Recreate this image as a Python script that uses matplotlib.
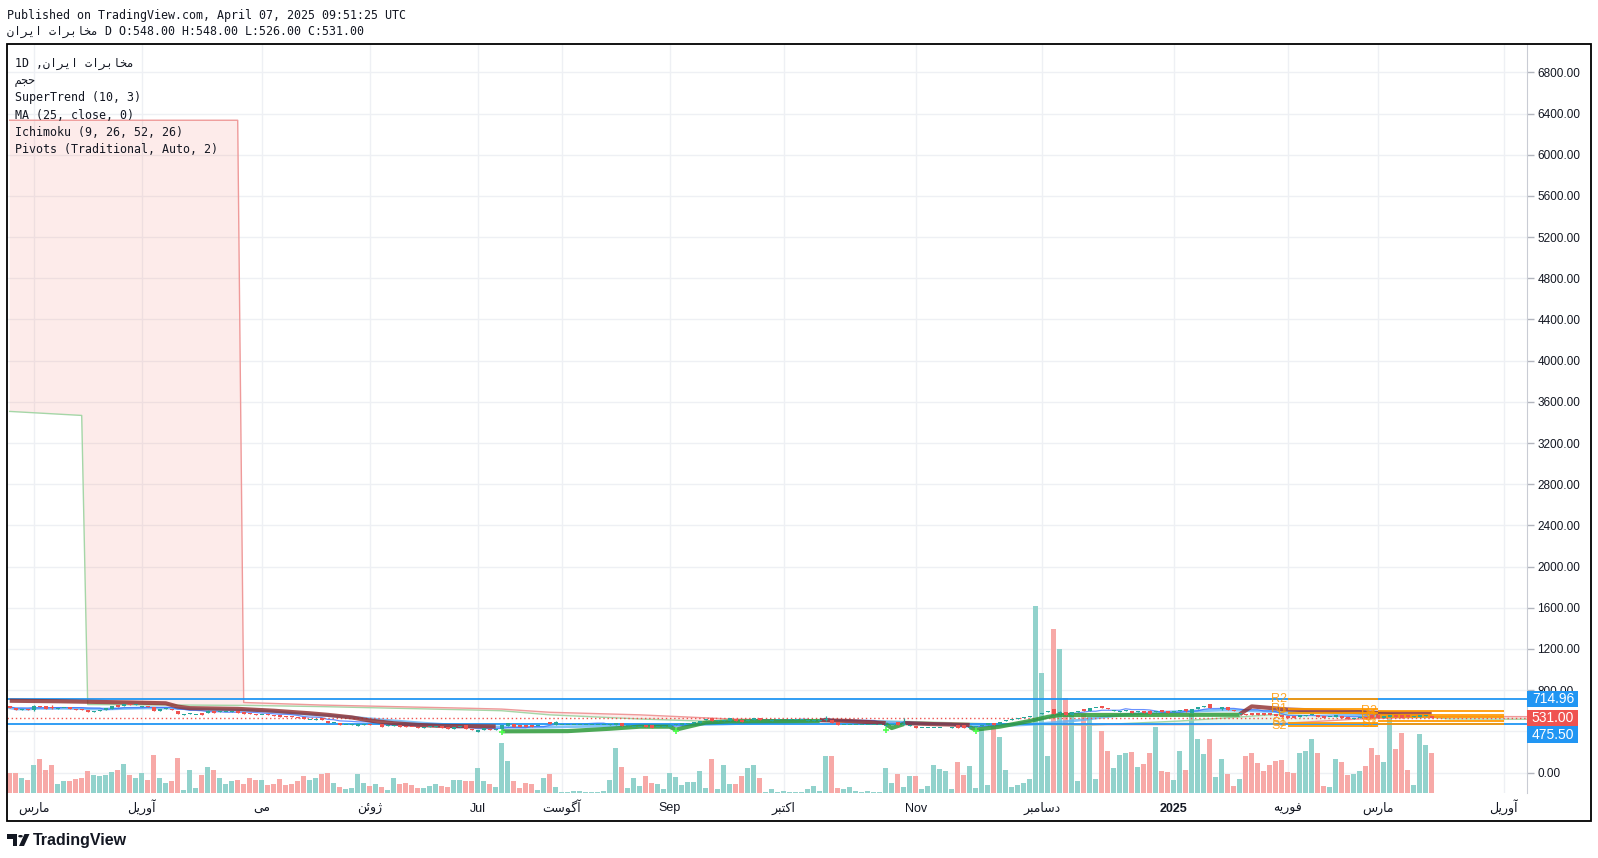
import matplotlib.pyplot as plt
import matplotlib.transforms as mtransforms
from matplotlib.patches import Rectangle, Circle, Polygon
import numpy as np
import pandas as pd

# ---------------- data ----------------
# daily candles, oldest first (bar 0 .. 237)
opens = [
    646, 630, 610, 620, 606, 650, 642, 632, 620, 624,
    632, 618, 612, 608, 590, 598, 604, 618, 652, 645,
    668, 660, 632, 648, 640, 598, 612, 620, 600, 560,
    566, 560, 574, 578, 600, 590, 590, 592, 596, 588,
    580, 570, 556, 564, 560, 554, 548, 545, 540, 535,
    512, 513, 529, 503, 478, 481, 463, 464, 455, 466,
    470, 458, 471, 452, 455, 465, 455, 445, 442, 436,
    439, 442, 449, 445, 426, 442, 458, 426, 394, 413,
    426, 413, 426, 449, 471, 458, 465, 461, 449, 458,
    490, 465, 462, 464, 463, 465, 464, 466, 465, 466,
    461, 465, 484, 455, 439, 443, 465, 458, 445, 446,
    445, 458, 465, 471, 477, 484, 510, 529, 497, 498,
    503, 519, 513, 497, 513, 529, 506, 505, 508, 506,
    508, 507, 508, 503, 500, 505, 506, 513, 490, 462,
    461, 463, 465, 463, 465, 464, 452, 462, 493, 465,
    455, 452, 432, 432, 430, 431, 429, 436, 458, 458,
    432, 441, 452, 465, 484, 470, 497, 510, 519, 529,
    538, 555, 564, 584, 619, 574, 584, 561, 590, 619,
    600, 626, 648, 629, 597, 590, 594, 600, 584, 600,
    594, 587, 603, 594, 587, 594, 613, 581, 619, 632,
    664, 623, 613, 636, 607, 568, 571, 574, 574, 578,
    574, 568, 558, 545, 548, 542, 551, 555, 561, 545,
    536, 542, 551, 535, 516, 529, 542, 555, 555, 529,
    536, 561, 561, 555, 536, 542, 548, 548,
]
closes = [
    628, 606, 618, 608, 648, 632, 614, 622, 628, 630,
    616, 610, 605, 592, 598, 606, 622, 648, 632, 668,
    658, 668, 648, 632, 596, 616, 622, 606, 564, 564,
    574, 562, 562, 594, 578, 594, 592, 596, 578, 572,
    566, 555, 562, 554, 545, 535, 535, 535, 528, 516,
    514, 522, 506, 478, 481, 458, 466, 467, 471, 470,
    458, 466, 445, 461, 465, 445, 439, 439, 436, 442,
    448, 449, 429, 419, 445, 452, 423, 410, 413, 429,
    413, 423, 465, 477, 445, 445, 439, 445, 455, 465,
    471, 490, 464, 464, 465, 465, 466, 466, 466, 466,
    471, 478, 452, 461, 452, 446, 439, 432, 449, 449,
    462, 471, 478, 484, 490, 497, 522, 497, 506, 506,
    526, 503, 494, 513, 526, 510, 508, 508, 508, 508,
    508, 508, 508, 508, 506, 506, 520, 481, 465, 465,
    465, 465, 465, 465, 465, 465, 462, 474, 458, 475,
    462, 432, 436, 436, 436, 436, 433, 445, 432, 432,
    445, 448, 465, 477, 465, 490, 506, 516, 529, 538,
    548, 561, 574, 594, 571, 590, 561, 587, 594, 594,
    629, 629, 623, 613, 603, 597, 603, 574, 597, 578,
    571, 600, 587, 578, 597, 603, 594, 619, 632, 648,
    626, 626, 632, 603, 594, 580, 555, 555, 561, 561,
    555, 548, 536, 529, 529, 555, 561, 568, 536, 529,
    542, 555, 529, 522, 529, 538, 526, 529, 529, 545,
    561, 538, 529, 536, 545, 555, 561, 531,
]
# wicks that reach beyond the candle body: bar -> (high, low)
wicks = {4: (655, 600), 7: (660, 620), 33: (610, 575), 91: (497, 462),
         136: (550, 505), 149: (525, 460), 175: (597, 570), 190: (604, 566),
         196: (620, 590), 202: (640, 610), 237: (548, 526)}

# volume (relative units)
volume = [
    20, 20, 15, 13, 28, 34, 23, 28, 9, 12,
    12, 14, 15, 22, 18, 17, 18, 21, 23, 29,
    18, 15, 20, 13, 38, 15, 10, 12, 35, 3,
    23, 5, 18, 26, 23, 15, 9, 12, 13, 9,
    15, 13, 13, 8, 9, 14, 8, 9, 12, 17,
    13, 15, 19, 20, 10, 6, 4, 5, 19, 10,
    7, 9, 6, 3, 15, 9, 10, 8, 5, 5,
    7, 9, 7, 6, 13, 13, 12, 12, 25, 12,
    9, 6, 50, 32, 12, 5, 10, 9, 3, 15,
    19, 6, 1, 1, 2, 2, 1, 1, 1, 2,
    13, 45, 26, 5, 15, 7, 17, 10, 9, 4,
    20, 16, 8, 11, 11, 22, 5, 34, 4, 28,
    9, 9, 17, 25, 28, 15, 1, 4, 1, 2,
    1, 1, 1, 4, 7, 2, 37, 37, 5, 4,
    6, 2, 1, 2, 1, 1, 25, 10, 19, 6,
    17, 17, 4, 7, 28, 24, 22, 4, 31, 18,
    27, 5, 64, 8, 67, 56, 23, 6, 8, 10,
    14, 186, 119, 37, 163, 143, 94, 80, 12, 78,
    75, 14, 62, 42, 25, 38, 40, 41, 26, 29,
    40, 66, 22, 21, 13, 42, 23, 78, 54, 39,
    54, 16, 34, 19, 7, 14, 37, 40, 30, 22,
    28, 32, 33, 21, 20, 40, 42, 54, 40, 7,
    6, 34, 31, 18, 19, 22, 27, 45, 38, 31,
    77, 44, 60, 23, 8, 59, 48, 40,
]

# Ichimoku leading spans (bar index, shifted 26 bars ahead)
ich_x = [0, 12, 13, 38, 39, 52, 75, 82, 90, 105, 120, 135, 150, 165, 180, 195, 210, 225, 240, 264]
span_a = [3507, 3468, 660, 652, 652, 640, 610, 600, 560, 520, 490, 500, 495, 470, 460, 500, 560, 600, 520, 515]
span_b = [6335, 6335, 6335, 6335, 680, 655, 626, 616, 585, 560, 520, 500, 480, 470, 465, 465, 470, 520, 545, 540]

# SuperTrend (10, 3) legs: (bar indices, values)
st_down = [
    ([0, 8, 20, 26, 28, 30, 38, 44, 50, 53, 57, 60, 64, 68, 72, 81],
     [697, 692, 680, 672, 640, 625, 618, 600, 575, 560, 535, 505, 478, 462, 452, 447]),
    ([135, 140, 146], [508, 500, 480]),
    ([149, 154, 160], [480, 470, 462]),
    ([205, 207, 213, 229, 237], [565, 642, 612, 578, 571]),
]
st_up = [
    ([82, 93, 100, 105, 110, 111, 116, 120, 135], [400, 402, 425, 445, 445, 416, 485, 497, 500]),
    ([146, 147, 149], [470, 432, 470]),
    ([160, 161, 165, 170, 173, 175, 205], [440, 416, 445, 500, 540, 558, 561]),
]
st_signal_x = [82, 111, 146, 161]
st_signal_y = [395, 405, 408, 405]

# horizontal lines and last price
hlines_blue = [714.96, 475.50]
last_close = 531.00

# monthly pivots (Traditional), two periods
piv_start = [213, 228]
piv_end = [228, 249]
piv_names = ["R2", "R1", "P", "S1", "S2"]
piv_levels = [[714, 617, 578, 482, 449],
              [598, 560, 538, 496, 471]]

# time axis labels
MAR = "\uFEB1\uFEAD\uFE8E\uFEE3"
APR = "\uFEDE\uFEF3\uFEAD\uFEED\uFE81"
MAY = "\uFEF0\uFEE3"
JUN = "\uFEE6\uFE8B\uFEED\uFB8A"
AUG = "\uFE96\uFEB3\uFEEE\uFB94\uFE81"
OCT = "\uFEAE\uFE92\uFE98\uFB90\uFE8D"
DEC = "\uFEAE\uFE92\uFEE3\uFE8E\uFEB3\uFEA9"
FEB = "\uFEEA\uFEF3\uFEAD\uFEEE\uFED3"
month_idx = [4, 22, 42, 60, 78, 92, 110, 129, 151, 172, 194, 213, 228, 249]
month_lbl = [MAR, APR, MAY, JUN, "Jul", AUG, "Sep", OCT, "Nov", DEC, "2025", FEB, MAR, APR]
price_ticks = [0, 400, 800, 1200, 1600, 2000, 2400, 2800, 3200, 3600,
               4000, 4400, 4800, 5200, 5600, 6000, 6400, 6800]
hidden_ticks = [400]   # covered by the price labels on the axis

NAME = "\uFEE5\uFE8D\uFEAE\uFEF3\uFE8D \uFE95\uFE8D\uFEAE\uFE91\uFE8E\uFEA8\uFEE3"
VOL_NAME = "\uFEE2\uFEA0\uFEA3"
legend_lines = ["1D ," + NAME, VOL_NAME, "SuperTrend (10, 3)", "MA (25, close, 0)",
                "Ichimoku (9, 26, 52, 26)", "Pivots (Traditional, Auto, 2)"]

# ---------------- layout / style ----------------
W, H, DPI = 1598, 858, 100
PANE = (7, 44, 1527, 793)          # left, top, right, bottom (px)
FRAME = (7, 44, 1591, 821)
BAR0, STEP = 9.7, 6.0              # pixel centre of first bar, bar spacing
Y_ZERO, Y_SCALE = 772.5, 0.10296   # pixel row of price 0, px per price unit
VOL_FRAC = 0.25                    # tallest volume bar / pane height

UP, DN = "#26a69a", "#ef5350"
GRID = "#eef0f4"
TXT = "#131722"
MONO = ["DejaVu Sans Mono", "DejaVu Sans"]
SANS = ["Liberation Sans", "DejaVu Sans"]


def fx(px): return px / W
def fy(py): return 1 - py / H


fig = plt.figure(figsize=(W / DPI, H / DPI), dpi=DPI)
fig.patch.set_facecolor("white")
rect = [fx(PANE[0]), fy(PANE[3]), (PANE[2] - PANE[0]) / W, (PANE[3] - PANE[1]) / H]
axv = fig.add_axes(rect)
ax = fig.add_axes(rect, sharex=axv)
ax.patch.set_alpha(0)

ax.set_xlim((PANE[0] - BAR0) / STEP, (PANE[2] - BAR0) / STEP)
ax.set_ylim((Y_ZERO - PANE[3]) / Y_SCALE, (Y_ZERO - PANE[1]) / Y_SCALE)

n = len(closes)
x = np.arange(n)
o = np.array(opens, float); c = np.array(closes, float)
up = c >= o
hi = np.maximum(o, c); lo = np.minimum(o, c)
for k, (h_, l_) in wicks.items():
    hi[k] = max(hi[k], h_); lo[k] = min(lo[k], l_)

# grid (drawn on the bottom axes so it sits behind everything)
for m in month_idx:
    axv.axvline(m, color=GRID, lw=1, zorder=0)
gtrans = mtransforms.blended_transform_factory(axv.transAxes, ax.transData)
for p in price_ticks:
    axv.plot([0, 1], [p, p], transform=gtrans, color=GRID, lw=1, zorder=0)

# volume
vcol = np.where(up, "#92d2cc", "#f7a9a7")
axv.bar(x, volume, width=0.8, color=vcol, zorder=2)
axv.set_ylim(0, max(volume) / VOL_FRAC)
axv.set_yticks([])
axv.tick_params(labelbottom=False, length=0)
for s in axv.spines.values():
    s.set_visible(False)

# ichimoku cloud
ia = np.array(span_a, float); ib = np.array(span_b, float)
ax.fill_between(ich_x, ia, ib, where=ib >= ia, interpolate=True, color="#f44336", alpha=0.1, lw=0, zorder=1)
ax.fill_between(ich_x, ia, ib, where=ib < ia, interpolate=True, color="#43a047", alpha=0.1, lw=0, zorder=1)
ax.plot(ich_x, span_a, color="#a5d6a7", lw=1, zorder=2)
ax.plot(ich_x, span_b, color="#ef9a9a", lw=1, zorder=2)

# MA 25 and conversion line
ma = pd.Series(c).rolling(25, min_periods=1).mean()
ax.plot(x, ma, color="#64b5f6", lw=2, alpha=0.8, zorder=3)
tenkan = (pd.Series(hi).rolling(9, min_periods=1).max() + pd.Series(lo).rolling(9, min_periods=1).min()) / 2
ax.plot(x, tenkan, color="#2962ff", lw=0.9, alpha=0.7, zorder=3)

# supertrend
for xs, ys in st_down:
    ax.plot(xs, ys, color="#8e2c2c", lw=3, alpha=0.8, solid_capstyle="butt", zorder=4)
for xs, ys in st_up:
    ax.plot(xs, ys, color="#2e9b3a", lw=3, alpha=0.85, solid_capstyle="butt", zorder=4)
ax.scatter(st_signal_x, st_signal_y, marker="+", s=22, color="#4cff4c", lw=1.2, zorder=5)

# horizontal lines
for v in hlines_blue:
    ax.axhline(v, color="#2196f3", lw=1.3, zorder=3)
ax.axhline(last_close, color=DN, lw=1, ls=(0, (1, 2)), zorder=3)

# pivots
for j in range(len(piv_start)):
    for name, lvl in zip(piv_names, piv_levels[j]):
        ax.hlines(lvl, piv_start[j], piv_end[j], color="#ff9800", lw=1.4, alpha=0.9, zorder=5)
        ax.text(piv_start[j] - 0.2, lvl, name, color="#ff9800", alpha=0.85, fontsize=9,
                family=SANS, ha="right", va="center", zorder=5)

# candles
ccol = np.where(up, UP, DN)
ax.vlines(x, lo, hi, color=ccol, lw=0.9, zorder=6)
body = np.maximum(np.abs(c - o), 8)
ax.bar(x, body, bottom=np.minimum(o, c), width=0.72, color=ccol, lw=0, zorder=7)

# price axis
ax.yaxis.tick_right()
ax.set_yticks(price_ticks)
ax.set_yticklabels(["" if p in hidden_ticks else f"{p:.2f}" for p in price_ticks],
                   family=SANS, fontsize=8.5, color=TXT)
ax.tick_params(axis="y", length=5, width=1, color="#b2b5be", pad=2.5)
for k, s in ax.spines.items():
    s.set_visible(k == "right")
ax.spines["right"].set_color("#c9ccd4")

# time axis: labels sit on a common baseline
ax.set_xticks(month_idx)
ax.set_xticklabels([])
ax.tick_params(axis="x", length=0)
lab_trans = mtransforms.blended_transform_factory(ax.transData, fig.transFigure)
for m, lbl in zip(month_idx, month_lbl):
    ax.text(m, fy(811.5), lbl, transform=lab_trans, ha="center", va="baseline", family=SANS,
            fontsize=9, color=TXT, fontweight="bold" if lbl == "2025" else "normal")

# price labels on the axis
BOX_H = 16.5
prev = -1e9
for val, col in sorted([(hlines_blue[0], "#2196f3"), (last_close, DN), (hlines_blue[1], "#2196f3")], reverse=True):
    yc = max(Y_ZERO - val * Y_SCALE, prev + BOX_H)
    prev = yc
    fig.add_artist(Rectangle((fx(1527), fy(yc + BOX_H / 2)), 51 / W, BOX_H / H,
                             transform=fig.transFigure, color=col, lw=0, zorder=10))
    fig.text(fx(1553), fy(yc + 0.5), f"{val:.2f}", color="white", fontsize=10, family=SANS,
             ha="center", va="center", zorder=11)

# frame
fig.add_artist(Rectangle((fx(FRAME[0]), fy(FRAME[3])), (FRAME[2] - FRAME[0]) / W,
                         (FRAME[3] - FRAME[1]) / H, transform=fig.transFigure,
                         fill=False, ec="black", lw=1.3, zorder=20))

# header and legend
fig.text(fx(7), fy(15.5), "Published on TradingView.com, April 07, 2025 09:51:25 UTC",
         family=MONO, fontsize=8.4, color=TXT, va="center")
fig.text(fx(7), fy(31.5), NAME + " D O:548.00 H:548.00 L:526.00 C:531.00",
         family=MONO, fontsize=8.4, color=TXT, va="center")
for k, line in enumerate(legend_lines):
    fig.text(fx(15), fy(63.5 + k * 17.2), line, family=MONO, fontsize=8.4, color=TXT, va="center")

# TradingView logo
fig.add_artist(Polygon([(fx(7), fy(834)), (fx(17), fy(834)), (fx(17), fy(846)), (fx(12.5), fy(846)),
                        (fx(12.5), fy(838.5)), (fx(7), fy(838.5))], closed=True,
                       transform=fig.transFigure, color=TXT, lw=0))
fig.add_artist(Circle((fx(20.5), fy(836.2)), 2.3 / W, transform=fig.transFigure, color=TXT, lw=0))
fig.add_artist(Polygon([(fx(19), fy(846)), (fx(24.5), fy(834)), (fx(29.5), fy(834)), (fx(24), fy(846))],
                       closed=True, transform=fig.transFigure, color=TXT, lw=0))
fig.text(fx(33), fy(840), "TradingView", family=SANS, fontsize=11.5, fontweight="bold",
         color=TXT, va="center")

fig.savefig("out.png", dpi=DPI, facecolor="white")
